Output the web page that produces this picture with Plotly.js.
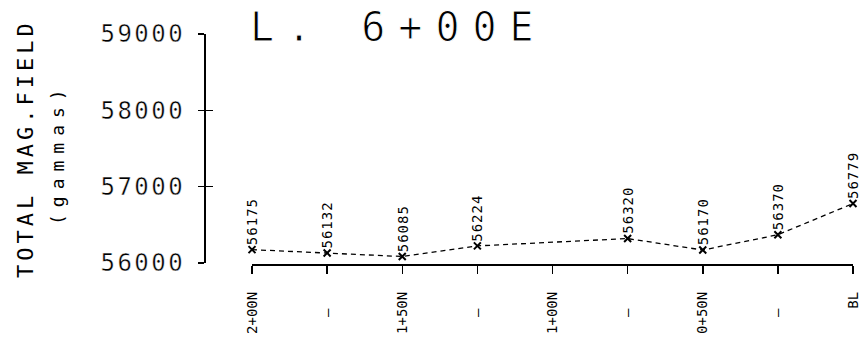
<!DOCTYPE html>
<html><head>
<meta charset="utf-8">
<script src="https://cdn.plot.ly/plotly-3.0.1.min.js"></script>
<style>
html,body{margin:0;padding:0;background:#fff}
.gtitle{letter-spacing:13px; stroke:#fff; stroke-width:1px}
.ytick text{letter-spacing:2.5px; stroke:#fff; stroke-width:0.4px}
.annotation text{letter-spacing:1px}
.annotation[data-index="0"] text{letter-spacing:4px}
.annotation[data-index="1"] text{letter-spacing:7px}
</style></head><body>
<div id="chart" style="width:867px;height:338px"></div>
<script>
// Stations along line (distance north of baseline)
const stations = [200,175,150,125,100,75,50,25,0];
const stationLabels = ["2+00N","\u00a0\u00a0\u2013\u00a0\u00a0","1+50N","\u00a0\u00a0\u2013\u00a0\u00a0","1+00N","\u00a0\u00a0\u2013\u00a0\u00a0","0+50N","\u00a0\u00a0\u2013\u00a0\u00a0","BL"];
// Readings (no reading at 1+00N)
const readX = [200,175,150,125,75,50,25,0];
const readings = [56175,56132,56085,56224,56320,56170,56370,56779];
const readingLabels = ["56175","56132","56085","56224","56320","56170","56370","56779"];
const yTicks = [56000,57000,58000,59000];
const yTickText = ["56000","57000","58000","59000"];

const FONT = "DejaVu Sans Mono, Liberation Mono, monospace";
const W = 867, H = 338;
const L = 204, R = 14, T = 34, B = 73;
const pw = W - L - R, ph = H - T - B;

const traces = [
  {
    x: readX, y: readings, type: 'scatter', mode: 'lines+markers',
    line: {color: '#000', width: 1.3, dash: '5px,4px'},
    marker: {symbol: 'x-thin', size: 7, line: {color: '#000', width: 2}, color: '#000'},
    cliponaxis: false, showlegend: false, hoverinfo: 'skip'
  },
  { x: [], y: [], type: 'scatter', yaxis: 'y2', showlegend: false, hoverinfo: 'skip' }
];

const annotations = [
  {xref: 'paper', yref: 'paper', x: (25 - L) / pw, y: ((H - B) - 149) / ph,
   text: 'TOTAL MAG.FIELD', textangle: -90, showarrow: false,
   xanchor: 'center', yanchor: 'middle', font: {family: FONT, size: 22, color: '#000'}},
  {xref: 'paper', yref: 'paper', x: (57 - L) / pw, y: ((H - B) - 154) / ph,
   text: '(gammas)', textangle: -90, showarrow: false,
   xanchor: 'center', yanchor: 'middle', font: {family: FONT, size: 18, color: '#000'}}
];
readX.forEach((xv, i) => {
  annotations.push({
    x: xv, y: readings[i], xref: 'x', yref: 'y', text: readingLabels[i],
    textangle: -90, showarrow: false, xanchor: 'center', yanchor: 'bottom', yshift: 5,
    font: {family: FONT, size: 14, color: '#000'}
  });
});

const layout = {
  width: W, height: H,
  margin: {l: L, r: R, t: T, b: B, pad: 0},
  paper_bgcolor: '#fff', plot_bgcolor: '#fff',
  showlegend: false,
  title: {
    text: 'L. 6+00E', xref: 'container', yref: 'container',
    x: 250 / W, xanchor: 'left', y: 1 - 13 / H, yanchor: 'top',
    font: {family: FONT, size: 40, color: '#000'}
  },
  xaxis: {
    domain: [48 / pw, 1], range: [200, 0], anchor: 'free', position: 0,
    tickmode: 'array', tickvals: stations, ticktext: stationLabels,
    tickangle: -90, ticks: 'outside', ticklen: 8, tickwidth: 1.5, tickcolor: '#000',
    ticklabelstandoff: 12,
    showline: true, linecolor: '#000', linewidth: 2.2,
    showgrid: false, zeroline: false,
    tickfont: {family: FONT, size: 14, color: '#000'}
  },
  yaxis: {
    domain: [2 / ph, 1], range: [56000, 59000], anchor: 'free', position: 0,
    tickmode: 'array', tickvals: yTicks, ticktext: yTickText,
    ticks: 'outside', ticklen: 6, tickwidth: 1.5, tickcolor: '#000',
    ticklabelstandoff: 8,
    showline: true, linecolor: '#000', linewidth: 1.5,
    showgrid: false, zeroline: false,
    tickfont: {family: FONT, size: 24, color: '#000'}
  },
  yaxis2: {
    overlaying: 'y', domain: [2 / ph, 1], range: [56000, 59000], anchor: 'free', position: 0,
    tickmode: 'array', tickvals: yTicks,
    ticks: 'inside', ticklen: 8, tickwidth: 1.5, tickcolor: '#000',
    showticklabels: false, showline: false, showgrid: false, zeroline: false
  },
  annotations: annotations
};

Plotly.newPlot('chart', traces, layout, {staticPlot: true, displayModeBar: false});
</script>
</body></html>
